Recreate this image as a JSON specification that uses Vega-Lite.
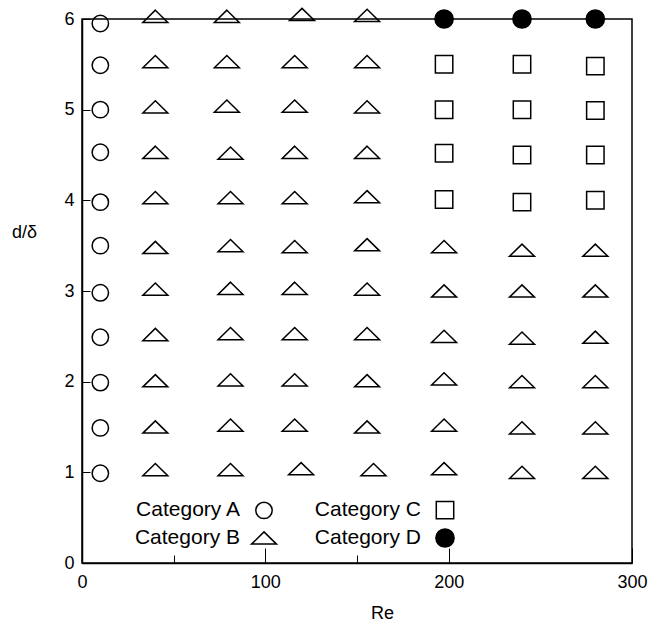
{
  "$schema": "https://vega.github.io/schema/vega-lite/v6.json",
  "width": 550,
  "height": 544,
  "autosize": {"type": "none"},
  "padding": {"left": 82, "top": 19, "right": 23, "bottom": 63},
  "background": "white",
  "config": {
    "font": "Liberation Sans",
    "view": {"stroke": "black", "strokeWidth": 1.5},
    "axis": {"domainColor": "black", "domainWidth": 1.5, "tickColor": "black", "tickWidth": 1, "labelColor": "black", "titleColor": "black", "labelFont": "Liberation Sans", "titleFont": "Liberation Sans", "labelFontSize": 18, "titleFontSize": 18, "titleFontWeight": "normal", "grid": false},
    "legend": {"labelFont": "Liberation Sans", "labelFontSize": 21, "labelColor": "black"}
  },
  "data": {"values": [
    {"Re": 10, "d": 0.99, "cat": "Category A"},
    {"Re": 10, "d": 1.49, "cat": "Category A"},
    {"Re": 10, "d": 1.99, "cat": "Category A"},
    {"Re": 10, "d": 2.49, "cat": "Category A"},
    {"Re": 10, "d": 2.98, "cat": "Category A"},
    {"Re": 10, "d": 3.5, "cat": "Category A"},
    {"Re": 10, "d": 3.98, "cat": "Category A"},
    {"Re": 10, "d": 4.53, "cat": "Category A"},
    {"Re": 10, "d": 5.0, "cat": "Category A"},
    {"Re": 10, "d": 5.49, "cat": "Category A"},
    {"Re": 10, "d": 5.95, "cat": "Category A"},

    {"Re": 40, "d": 6.03, "cat": "Category B"},
    {"Re": 79, "d": 6.03, "cat": "Category B"},
    {"Re": 120, "d": 6.05, "cat": "Category B"},
    {"Re": 155.5, "d": 6.04, "cat": "Category B"},
    {"Re": 40, "d": 5.53, "cat": "Category B"},
    {"Re": 79, "d": 5.53, "cat": "Category B"},
    {"Re": 116, "d": 5.53, "cat": "Category B"},
    {"Re": 155.5, "d": 5.53, "cat": "Category B"},
    {"Re": 40, "d": 5.03, "cat": "Category B"},
    {"Re": 79, "d": 5.04, "cat": "Category B"},
    {"Re": 116, "d": 5.04, "cat": "Category B"},
    {"Re": 155.5, "d": 5.03, "cat": "Category B"},
    {"Re": 40, "d": 4.53, "cat": "Category B"},
    {"Re": 81, "d": 4.52, "cat": "Category B"},
    {"Re": 116, "d": 4.53, "cat": "Category B"},
    {"Re": 155.5, "d": 4.53, "cat": "Category B"},
    {"Re": 40, "d": 4.03, "cat": "Category B"},
    {"Re": 81, "d": 4.03, "cat": "Category B"},
    {"Re": 116, "d": 4.03, "cat": "Category B"},
    {"Re": 155.5, "d": 4.04, "cat": "Category B"},
    {"Re": 40, "d": 3.48, "cat": "Category B"},
    {"Re": 81, "d": 3.5, "cat": "Category B"},
    {"Re": 116, "d": 3.49, "cat": "Category B"},
    {"Re": 155.5, "d": 3.51, "cat": "Category B"},
    {"Re": 197.5, "d": 3.49, "cat": "Category B"},
    {"Re": 240, "d": 3.45, "cat": "Category B"},
    {"Re": 280, "d": 3.45, "cat": "Category B"},
    {"Re": 40, "d": 3.02, "cat": "Category B"},
    {"Re": 81, "d": 3.03, "cat": "Category B"},
    {"Re": 116, "d": 3.03, "cat": "Category B"},
    {"Re": 155.5, "d": 3.02, "cat": "Category B"},
    {"Re": 197.5, "d": 3.0, "cat": "Category B"},
    {"Re": 240, "d": 3.0, "cat": "Category B"},
    {"Re": 280, "d": 3.0, "cat": "Category B"},
    {"Re": 40, "d": 2.52, "cat": "Category B"},
    {"Re": 81, "d": 2.53, "cat": "Category B"},
    {"Re": 116, "d": 2.53, "cat": "Category B"},
    {"Re": 155.5, "d": 2.53, "cat": "Category B"},
    {"Re": 197.5, "d": 2.5, "cat": "Category B"},
    {"Re": 240, "d": 2.48, "cat": "Category B"},
    {"Re": 280, "d": 2.49, "cat": "Category B"},
    {"Re": 40, "d": 2.01, "cat": "Category B"},
    {"Re": 81, "d": 2.02, "cat": "Category B"},
    {"Re": 116, "d": 2.02, "cat": "Category B"},
    {"Re": 155.5, "d": 2.01, "cat": "Category B"},
    {"Re": 197.5, "d": 2.03, "cat": "Category B"},
    {"Re": 240, "d": 2.0, "cat": "Category B"},
    {"Re": 280, "d": 2.0, "cat": "Category B"},
    {"Re": 40, "d": 1.5, "cat": "Category B"},
    {"Re": 81, "d": 1.52, "cat": "Category B"},
    {"Re": 116, "d": 1.52, "cat": "Category B"},
    {"Re": 155.5, "d": 1.5, "cat": "Category B"},
    {"Re": 197.5, "d": 1.52, "cat": "Category B"},
    {"Re": 240, "d": 1.49, "cat": "Category B"},
    {"Re": 280, "d": 1.49, "cat": "Category B"},
    {"Re": 40, "d": 1.03, "cat": "Category B"},
    {"Re": 81, "d": 1.03, "cat": "Category B"},
    {"Re": 119.5, "d": 1.04, "cat": "Category B"},
    {"Re": 159, "d": 1.03, "cat": "Category B"},
    {"Re": 197.5, "d": 1.04, "cat": "Category B"},
    {"Re": 240, "d": 1.0, "cat": "Category B"},
    {"Re": 280, "d": 1.0, "cat": "Category B"},

    {"Re": 197.5, "d": 5.5, "cat": "Category C"},
    {"Re": 240, "d": 5.5, "cat": "Category C"},
    {"Re": 280, "d": 5.48, "cat": "Category C"},
    {"Re": 197.5, "d": 5.0, "cat": "Category C"},
    {"Re": 240, "d": 5.0, "cat": "Category C"},
    {"Re": 280, "d": 4.99, "cat": "Category C"},
    {"Re": 197.5, "d": 4.52, "cat": "Category C"},
    {"Re": 240, "d": 4.5, "cat": "Category C"},
    {"Re": 280, "d": 4.5, "cat": "Category C"},
    {"Re": 197.5, "d": 4.01, "cat": "Category C"},
    {"Re": 240, "d": 3.98, "cat": "Category C"},
    {"Re": 280, "d": 4.0, "cat": "Category C"},

    {"Re": 197.5, "d": 6.0, "cat": "Category D"},
    {"Re": 240, "d": 6.0, "cat": "Category D"},
    {"Re": 280, "d": 6.0, "cat": "Category D"}
  ]},
  "mark": {"type": "point", "size": 676, "stroke": "black", "strokeWidth": 1.5, "opacity": 1, "clip": false},
  "encoding": {
    "x": {
      "field": "Re", "type": "quantitative",
      "scale": {"domain": [0, 300], "nice": false, "zero": false},
      "axis": {
        "title": "Re",
        "values": [0, 50, 100, 150, 200, 300],
        "labelExpr": "datum.value % 100 === 0 ? datum.label : ''",
        "tickSize": {"condition": {"test": "datum.value % 100 === 0", "value": -15}, "value": -8},
        "labelPadding": 25,
        "labelFlush": false,
        "labelOverlap": false,
        "titleX": 300,
        "titleY": 50,
        "titleAlign": "center",
        "titleBaseline": "middle"
      }
    },
    "y": {
      "field": "d", "type": "quantitative",
      "scale": {"domain": [0, 6], "nice": false, "zero": false},
      "axis": {
        "title": "d/δ",
        "values": [0, 1, 2, 3, 4, 5, 6],
        "tickSize": -8,
        "labelPadding": 16,
        "labelFlush": false,
        "labelOverlap": false,
        "titleAngle": 0,
        "titleX": -58,
        "titleY": 213,
        "titleAlign": "center",
        "titleBaseline": "middle"
      }
    },
    "shape": {
      "field": "cat", "type": "nominal",
      "scale": {
        "domain": ["Category A", "Category B", "Category C", "Category D"],
        "range": [
          "M0.63,0A0.63,0.63,0,1,1,-0.63,0A0.63,0.63,0,1,1,0.63,0Z",
          "M0,-0.47L0.96,0.47L-0.96,0.47Z",
          "M-0.67,-0.67H0.67V0.67H-0.67Z",
          "M0.7,0A0.7,0.7,0,1,1,-0.7,0A0.7,0.7,0,1,1,0.7,0Z"
        ]
      },
      "legend": {
        "title": null,
        "orient": "none",
        "legendX": 168,
        "legendY": 477,
        "columns": 2,
        "columnPadding": 34,
        "rowPadding": 2,
        "symbolSize": 676,
        "symbolStrokeColor": "black",
        "symbolStrokeWidth": 1.5,
        "symbolFillColor": "transparent",
        "labelAlign": "right",
        "labelOffset": -38,
        "padding": 0,
        "encode": {"symbols": {
          "stroke": {"value": "black"},
          "strokeWidth": {"value": 1.5},
          "fill": {"condition": {"test": "datum.value === 'Category D'", "value": "black"}, "value": "transparent"}
        }}
      }
    },
    "fill": {
      "field": "cat", "type": "nominal",
      "scale": {
        "domain": ["Category A", "Category B", "Category C", "Category D"],
        "range": ["transparent", "transparent", "transparent", "black"]
      },
      "legend": null
    }
  }
}
